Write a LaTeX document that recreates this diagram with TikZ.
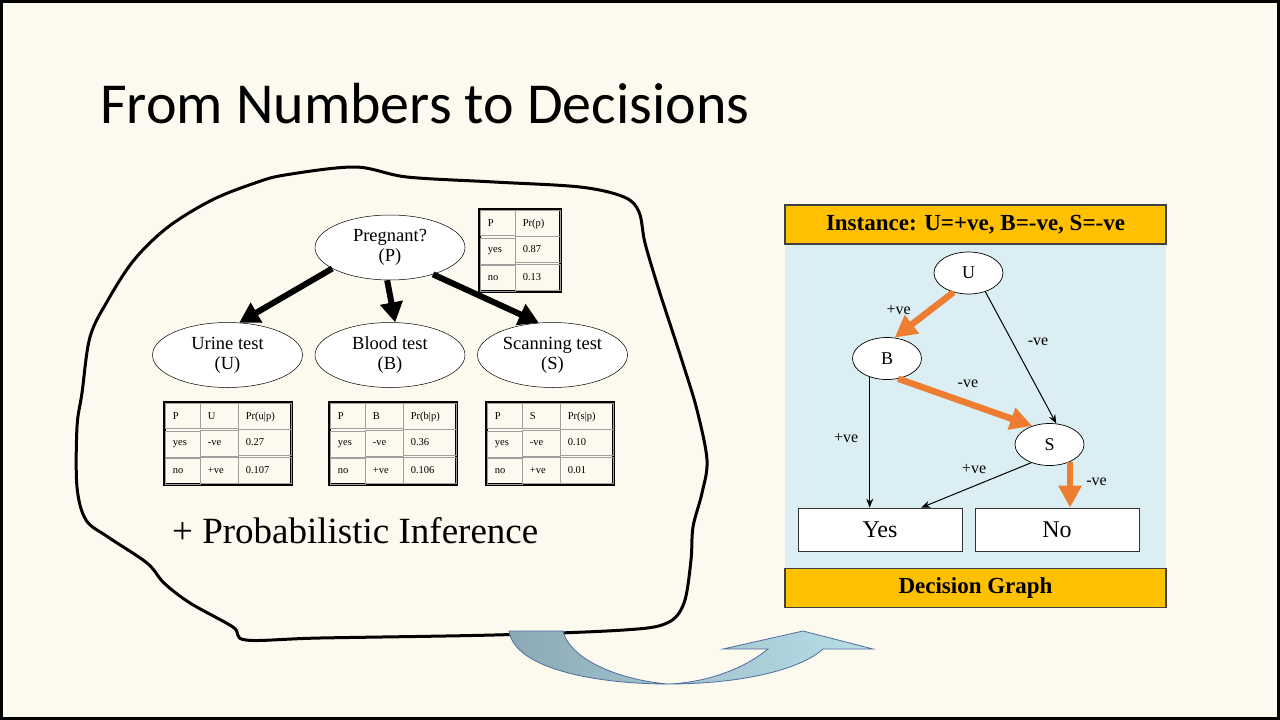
\documentclass[tikz,border=0pt]{standalone}
\usepackage{fontspec}
\setmainfont{Liberation Serif}
\newfontfamily\titlefont{Carlito}
\usetikzlibrary{shapes.geometric}
\usetikzlibrary{arrows.meta}
\usetikzlibrary{positioning}
\usetikzlibrary{matrix}
\usetikzlibrary{calc}
\definecolor{slidebg}{RGB}{252,249,238}
\definecolor{panelblue}{RGB}{219,238,243}
\definecolor{bargold}{RGB}{255,192,0}
\definecolor{edgeorange}{RGB}{237,125,49}
\definecolor{arrowdark}{RGB}{140,170,182}
\definecolor{arrowlight}{RGB}{185,223,233}
\definecolor{arrowline}{RGB}{79,110,160}
\tikzset{%
  bnnode/.style={ellipse, draw=black, line width=0.5pt, fill=white, minimum width=150pt, minimum height=65pt, inner sep=0pt, align=center, font=\fontsize{18.5}{20}\selectfont},
  bnedge/.style={-{Triangle[length=20pt,width=22pt]}, line width=6pt},
  cptcell/.style={draw=gray!75, line width=0.7pt, minimum height=25.7pt, inner xsep=8pt, inner ysep=0pt, align=left, font=\fontsize{10.5}{12}\selectfont},
  cpt/.style={matrix of nodes, draw=black, line width=3pt, inner sep=0pt, row sep=-0.7pt, column sep=-0.7pt, nodes={cptcell}},
  dgnode/.style={ellipse, draw=black, line width=0.7pt, fill=white, minimum width=69pt, minimum height=42pt, inner sep=0pt, font=\fontsize{18}{20}\selectfont},
  dgleaf/.style={rectangle, draw=black!80, line width=0.7pt, fill=white, minimum width=164pt, minimum height=43pt, font=\fontsize{24}{26}\selectfont},
  dgedge/.style={-{Stealth[length=9pt,width=7pt]}, line width=1pt},
  dgpath/.style={-{Triangle[length=22pt,width=22pt]}, line width=6.5pt, draw=edgeorange},
  dglabel/.style={font=\fontsize{16}{18}\selectfont, inner sep=0pt},
  goldbar/.style={draw=black!75, line width=1.2pt, fill=bargold, minimum width=381pt, minimum height=39pt, font=\bfseries\fontsize{23}{25}\selectfont}
}

\begin{document}
\begin{tikzpicture}[x=1pt, y=-1pt]
  \useasboundingbox (0,0) rectangle (1280,720);
  \fill[black] (0,0) rectangle (1280,720);
  \fill[slidebg] (3,3) rectangle (1277,717);

  \node[anchor=base west, inner sep=0pt, font=\titlefont\fontsize{58}{60}\selectfont] (title) at (100,123) {From Numbers to Decisions};

  % hand drawn outline
  \draw[line width=3pt, line join=round] plot[smooth cycle, tension=0.55] coordinates {
    (285,175) (355,167) (407,177) (494,182) (580,187) (624,197) (639,212)
    (645,243) (658,287) (671,327) (684,367) (697,410) (707,460) (702,493)
    (693,527) (691,560) (684,603) (667,623) (624,630) (494,635) (320,638)
    (246,640) (233,627) (190,603) (164,583) (147,563) (108,537) (86,520)
    (77,487) (77,427) (82,393) (90,337) (108,300) (134,260) (168,227)
    (212,200) (255,183)};

  % network
  \node[bnnode] (P) at (390,247.5) {Pregnant?\\(P)};
  \node[bnnode, below=42pt of P] (B) {Blood test\\(B)};
  \node[bnnode, left=12pt of B] (U) {Urine test\\(U)};
  \node[bnnode, right=12pt of B] (S) {Scanning test\\(S)};
  \draw[bnedge] (P.200) -- (U.70);
  \draw[bnedge] (P.265) -- (B.81);
  \draw[bnedge] (P.328) -- (S.113);

  % tables
  \matrix[cpt, anchor=north west, column 1/.style={nodes={text width=19pt}}, column 2/.style={nodes={text width=29pt}}] (cptP) at (478,208) {
    P & Pr(p) \\
    yes & 0.87 \\
    no & 0.13 \\
  };
  \matrix[cpt, anchor=north west, column 1/.style={nodes={text width=19pt}}, column 2/.style={nodes={text width=22pt}}, column 3/.style={nodes={text width=37pt}}] (cptU) at (163,401) {
    P & U & Pr(u\textbar p) \\
    yes & -ve & 0.27 \\
    no & +ve & 0.107 \\
  };
  \matrix[cpt, anchor=north west, column 1/.style={nodes={text width=19pt}}, column 2/.style={nodes={text width=22pt}}, column 3/.style={nodes={text width=37pt}}] (cptB) at (328,401) {
    P & B & Pr(b\textbar p) \\
    yes & -ve & 0.36 \\
    no & +ve & 0.106 \\
  };
  \matrix[cpt, anchor=north west, column 1/.style={nodes={text width=19pt}}, column 2/.style={nodes={text width=22pt}}, column 3/.style={nodes={text width=37pt}}] (cptS) at (485,401) {
    P & S & Pr(s\textbar p) \\
    yes & -ve & 0.10 \\
    no & +ve & 0.01 \\
  };

  \node[anchor=base west, inner sep=0pt, font=\fontsize{37}{40}\selectfont] (infer) at (172,543) {+ Probabilistic Inference};

  % decision graph
  \fill[panelblue] (785,244) rectangle (1166,568);
  \node[goldbar] (inst) at (975.5,224.5) {Instance: U=+ve, B=-ve, S=-ve};
  \node[goldbar] (dgtitle) at (975.5,588) {Decision Graph};
  \node[dgnode] (dU) at (968.5,273) {U};
  \node[dgnode] (dB) at (887,358.5) {B};
  \node[dgnode] (dS) at (1049.5,444.5) {S};
  \node[dgleaf] (yes) at (880,529.5) {Yes};
  \node[dgleaf] (no) at (1057,529.5) {No};
  \draw[dgedge] (dU.312) -- (dS.72) node[dglabel, pos=0.38, right=15pt] {-ve};
  \draw[dgedge] (dB.227) -- (dB.227 |- yes.north) node[dglabel, pos=0.47, left=11pt] {+ve};
  \draw[dgedge] (dS.225) -- ($(yes.north)!0.5!(yes.north east)$) node[dglabel, pos=0.52, above=12pt] {+ve};
  \draw[dgpath] (dU.232) -- (dB.70) node[dglabel, pos=0.4, left=16pt] {+ve};
  \draw[dgpath] (dB.299) -- (dS.133) node[dglabel, pos=0.52, above=12pt] {-ve};
  \draw[dgpath] (dS.320) -- (dS.320 |- no.north) node[dglabel, pos=0.43, right=13pt] {-ve};

  % curved arrow
  \draw[arrowline, line width=0.8pt, left color=arrowdark, right color=arrowlight]
    (509,631) .. controls (515,670) and (600,684) .. (668,684)
    .. controls (740,684) and (800,670) .. (823,649) -- (873,649) -- (803,631)
    -- (723,649) -- (768,649) .. controls (740,672) and (700,683) .. (668,684)
    .. controls (620,680) and (570,660) .. (563,631) -- cycle;
\end{tikzpicture}
\end{document}
